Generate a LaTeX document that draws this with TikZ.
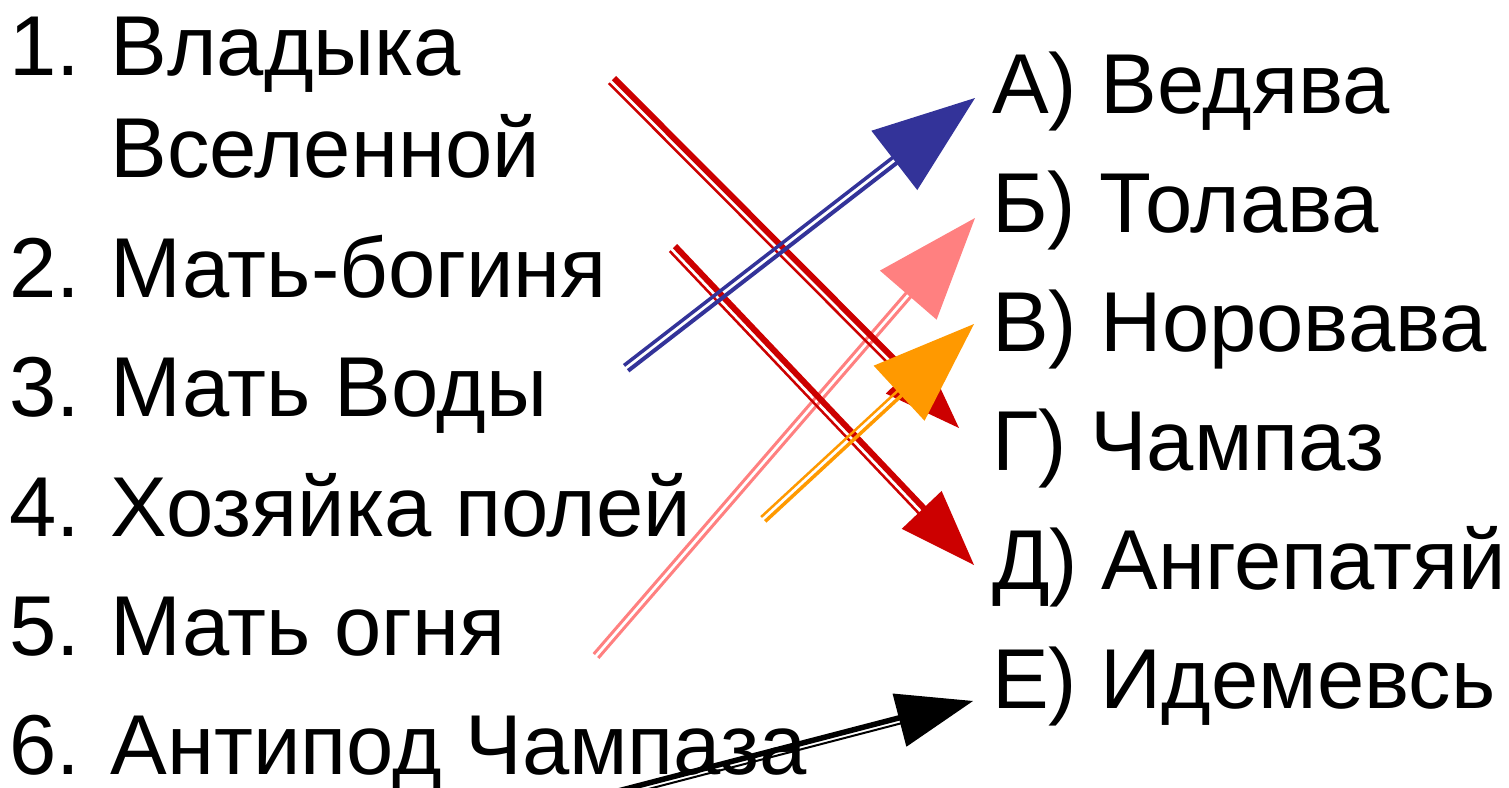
\documentclass[tikz,border=0pt]{standalone}
\usepackage{fontspec}
\setmainfont{Liberation Sans}
\usetikzlibrary{calc}
\definecolor{cred}{HTML}{CC0000}
\definecolor{cblue}{HTML}{333399}
\definecolor{cpink}{HTML}{FF8080}
\definecolor{corange}{HTML}{FF9900}
% #1 colour, #2 start, #3 tip, #4 head length, #5 half head width,
% #6 offset (+side), #7 width (+side), #8 offset (-side), #9 width (-side)
\newcommand{\dblarrow}[9]{%
  \coordinate (hb) at ($(#3)!#4!(#2)$);
  \coordinate (he) at ($(#3)!#4*0.7!(#2)$);
  \draw[#1, line width=#7] ($(#2)!#6!90:(#3)$) -- ($(he)!#6!-90:(#2)$);
  \draw[#1, line width=#9] ($(#2)!#8!-90:(#3)$) -- ($(he)!#8!90:(#2)$);
  \fill[#1] (#3) -- ($(hb)!#5!90:(#3)$) -- ($(hb)!#5!-90:(#3)$) -- cycle;
}
\begin{document}
\begin{tikzpicture}[x=1pt,y=-1pt,
  lbl/.style={anchor=base west, inner sep=0pt, font=\fontsize{85}{100}\selectfont}]
\clip (0,0) rectangle (1509,787);
% left column
\node[lbl] (l1)  at (9.5,75)  {\makebox[101pt][l]{1.}Владыка};
\node[lbl] (l1b) at (9.5,177) {\hspace*{101pt}Вселенной};
\node[lbl] (l2)  at (9.5,297) {\makebox[101pt][l]{2.}Мать-богиня};
\node[lbl] (l3)  at (9.5,416) {\makebox[101pt][l]{3.}Мать Воды};
\node[lbl] (l4)  at (9.5,536) {\makebox[101pt][l]{4.}Хозяйка полей};
\node[lbl] (l5)  at (9.5,655) {\makebox[101pt][l]{5.}Мать огня};
\node[lbl] (l6)  at (9.5,774) {\makebox[101pt][l]{6.}Антипод Чампаза};
% right column
\node[lbl] (ra) at (992,113) {А) Ведява};
\node[lbl] (rb) at (992,232) {Б) Толава};
\node[lbl] (rc) at (992,351) {В) Норовава};
\node[lbl] (rd) at (992,470) {Г) Чампаз};
\node[lbl] (re) at (992,589) {Д) Ангепатяй};
\node[lbl] (rf) at (992,708) {Е) Идемевсь};
% arrow end points
\coordinate (r1s) at (612,80);   \coordinate (r1t) at (959,428);
\coordinate (r2s) at (673,248);  \coordinate (r2t) at (974,565);
\coordinate (bls) at (626,368);  \coordinate (blt) at (975,98);
\coordinate (pks) at (596,656);  \coordinate (pkt) at (975,218);
\coordinate (ors) at (763,519);  \coordinate (ort) at (974,324);
\coordinate (bks) at (600,798);  \coordinate (bkt) at (973,701);
% arrows
\dblarrow{cpink}{pks}{pkt}{102pt}{37.5pt}{3pt}{3pt}{3pt}{3pt}
\dblarrow{cred}{r1s}{r1t}{76pt}{27.5pt}{2.75pt}{6pt}{4.5pt}{2.5pt}
\dblarrow{cred}{r2s}{r2t}{76pt}{27.5pt}{2.75pt}{6pt}{4.5pt}{2.5pt}
\dblarrow{cblue}{bls}{blt}{102pt}{37.5pt}{3.25pt}{3.5pt}{3.5pt}{4pt}
\dblarrow{corange}{ors}{ort}{102pt}{37.5pt}{2.75pt}{2.5pt}{3.25pt}{3.5pt}
\dblarrow{black}{bks}{bkt}{76pt}{27.5pt}{2.25pt}{5.5pt}{3.5pt}{2pt}
\end{tikzpicture}
\end{document}
